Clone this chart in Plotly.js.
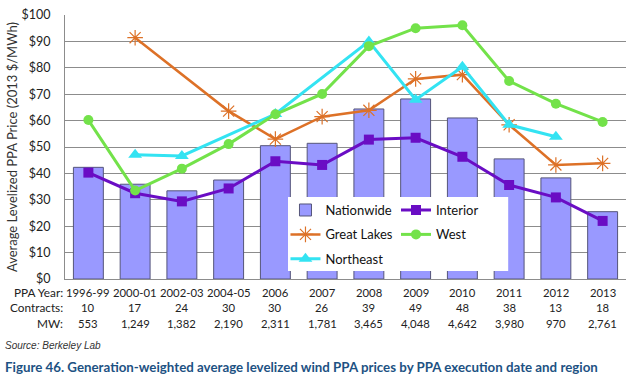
<!DOCTYPE html>
<html>
<head>
<meta charset="utf-8">
<script src="https://cdn.plot.ly/plotly-3.0.1.min.js"></script>
<style>html,body{margin:0;padding:0;background:#fff;}#chart{width:640px;height:380px;}</style>
</head>
<body>
<div id="chart"></div>
<script>
const categories = ["1996-99","2000-01","2002-03","2004-05","2006","2007","2008","2009","2010","2011","2012","2013"];
const contracts = ["10","17","24","30","30","26","39","49","48","38","13","18"];
const mw = ["553","1,249","1,382","2,190","2,311","1,781","3,465","4,048","4,642","3,980","970","2,761"];
const nationwide = [42.3, 35.9, 33.4, 37.5, 50.5, 51.4, 64.4, 68.2, 61.0, 45.5, 38.3, 25.5];
const interior   = [40.3, 32.5, 29.4, 34.3, 44.6, 43.2, 52.8, 53.5, 46.3, 35.6, 30.9, 22.0];
const greatLakes = [null, 91.4, null, 63.6, 53.0, 61.5, 63.9, 75.8, 77.4, 58.4, 43.2, 43.8];
const west       = [60.2, 33.5, 41.8, 51.1, 62.4, 70.1, 88.2, 95.0, 96.1, 75.0, 66.4, 59.5];
const northeast  = [null, 47.1, 46.6, null, 62.5, null, 90.0, 67.9, 80.4, 58.4, 53.9, null];
const yTicks = [0,10,20,30,40,50,60,70,80,90,100];
const yTickText = yTicks.map(v => "$" + v);

const FONT = "Lato, 'Open Sans', sans-serif";

const traces = [
  {type:"bar", name:"Nationwide", x:categories, y:nationwide,
   marker:{color:"#9999ff", line:{color:"#55557a", width:1}},
   legend:"legend", legendgroup:"a", legendrank:1},
  {type:"scatter", mode:"lines+markers", name:"Great Lakes", x:categories, y:greatLakes, connectgaps:true,
   line:{color:"#dd7127", width:2.5},
   marker:{symbol:"asterisk-open", size:13, color:"#dd7127", line:{color:"#dd7127", width:1.2}},
   legend:"legend", legendgroup:"b", legendrank:2},
  {type:"scatter", mode:"lines+markers", name:"Northeast", x:categories, y:northeast, connectgaps:true,
   line:{color:"#33e3f2", width:3},
   marker:{symbol:"triangle-up", size:12, color:"#33e3f2"},
   legend:"legend", legendgroup:"c", legendrank:3},
  {type:"scatter", mode:"lines+markers", name:"Interior", x:categories, y:interior,
   line:{color:"#6a0dc4", width:3},
   marker:{symbol:"square", size:10, color:"#6a0dc4"},
   legend:"legend2", legendgroup:"d", legendrank:1},
  {type:"scatter", mode:"lines+markers", name:"West", x:categories, y:west,
   line:{color:"#73e24a", width:3},
   marker:{symbol:"circle", size:10, color:"#73e24a"},
   legend:"legend2", legendgroup:"e", legendrank:2}
];

const annotations = [];
const rowY = [-0.052, -0.109, -0.168];
const rowLabels = ["PPA Year:", "Contracts:", "MW:"];
const rows = [categories, contracts, mw];
rowLabels.forEach((lab, r) => {
  annotations.push({xref:"paper", yref:"paper", x:0.0, y:rowY[r], xanchor:"right", yanchor:"middle",
    text:lab, showarrow:false, font:{family:FONT, size:11.8, color:"#222"}});
  rows[r].forEach((t, i) => {
    annotations.push({xref:"x", yref:"paper", x:i, y:rowY[r], xanchor:"center", yanchor:"middle",
      text:t, showarrow:false, font:{family:FONT, size:11.3, color:"#222"}});
  });
});
annotations.push({xref:"paper", yref:"paper", x:-0.111, y:-0.25, xanchor:"left", yanchor:"middle",
  text:"<i>Source: Berkeley Lab</i>", showarrow:false, font:{family:"'Liberation Sans', Arial, sans-serif", size:10, color:"#333"}});
annotations.push({xref:"paper", yref:"paper", x:-0.111, y:-0.332, xanchor:"left", yanchor:"middle",
  text:"<b>Figure 46. Generation-weighted average levelized wind PPA prices by PPA execution date and region</b>",
  showarrow:false, font:{family:FONT, size:13.3, color:"#1d5283"}});

const layout = {
  width:640, height:380,
  margin:{l:65, r:14, t:15, b:101, pad:0},
  paper_bgcolor:"#fff", plot_bgcolor:"#fff",
  font:{family:FONT, color:"#222"},
  bargap:0.36,
  showlegend:true,
  xaxis:{type:"category", categoryorder:"array", categoryarray:categories, range:[-0.5, categories.length - 0.5],
    autorange:false, showticklabels:false, showgrid:false, showline:true, linecolor:"#8c8c8c", linewidth:1,
    ticks:"", zeroline:false},
  yaxis:{range:[0,100], tickvals:yTicks, ticktext:yTickText, showgrid:true, gridcolor:"#8c8c8c", gridwidth:1,
    showline:true, linecolor:"#8c8c8c", zeroline:false, ticks:"", ticklabelstandoff:11,
    tickfont:{family:FONT, size:12.5, color:"#222"},
    title:{text:"Average Levelized PPA Price (2013 $/MWh)", standoff:0, font:{family:FONT, size:13, color:"#333"}}},
  shapes:[{type:"rect", xref:"paper", yref:"paper", x0:0.3975, x1:0.79, y0:0.03, y1:0.3106,
    fillcolor:"#ffffff", line:{width:0}, layer:"above"}],
  legend:{x:0.393, y:0.318, xanchor:"left", yanchor:"top", bgcolor:"rgba(0,0,0,0)", borderwidth:0,
    font:{family:FONT, size:13, color:"#111"}, tracegroupgap:4.5, traceorder:"grouped"},
  legend2:{x:0.59, y:0.318, xanchor:"left", yanchor:"top", bgcolor:"rgba(0,0,0,0)", borderwidth:0,
    font:{family:FONT, size:13, color:"#111"}, tracegroupgap:4.5, traceorder:"grouped"},
  annotations:annotations
};

Plotly.newPlot("chart", traces, layout, {displayModeBar:false, staticPlot:true});
</script>
</body>
</html>
